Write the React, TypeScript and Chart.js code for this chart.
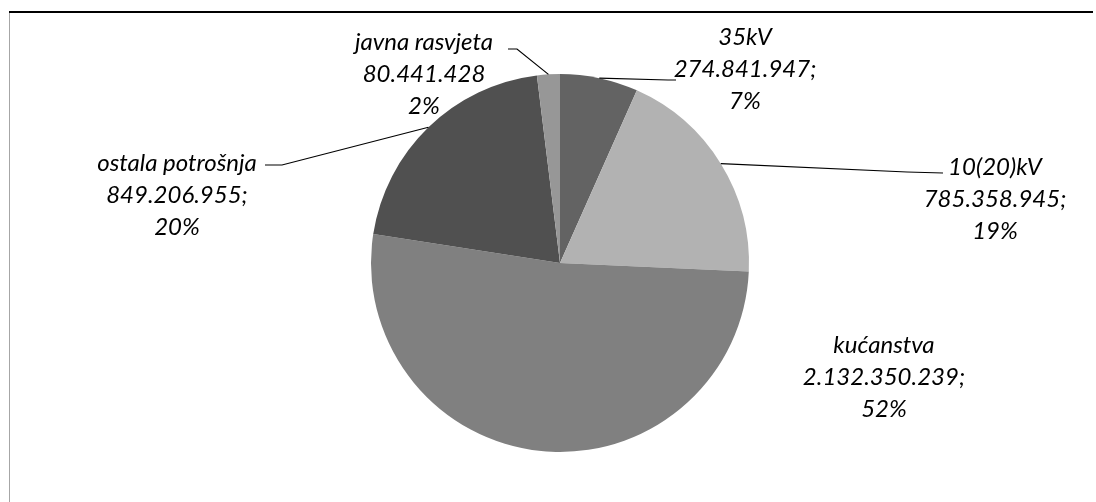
import React, { useEffect, useRef } from "react";
import { Chart, registerables } from "chart.js";

Chart.register(...registerables);

const categories = ["35kV", "10(20)kV", "kućanstva", "ostala potrošnja", "javna rasvjeta"];
const values = [274841947, 785358945, 2132350239, 849206955, 80441428];
const percentLabels = ["7%", "19%", "52%", "20%", "2%"];
const valueSuffix = [";", ";", ";", ";", ""];
const colors = ["#636363", "#b2b2b2", "#808080", "#505050", "#979797"];

// label layout: centre x, first-line y, and leader elbow/tail (null = no leader)
const labelLayout = [
  { x: 745, y: 37, elbow: [668, 80], tail: [676, 80] },
  { x: 995, y: 167, elbow: [907, 172], tail: [943, 173] },
  { x: 884, y: 345, elbow: null, tail: null },
  { x: 177, y: 163, elbow: [282, 165], tail: [265, 165] },
  { x: 424, y: 42, elbow: [517, 49], tail: [508, 49] },
];
const LINE_H = 32;

function fmt(v: number): string {
  return String(v).replace(/\B(?=(\d{3})+(?!\d))/g, ".");
}

const labelPlugin = {
  id: "excelLabels",
  beforeDraw(chart: any) {
    const ctx = chart.ctx;
    ctx.save();
    ctx.fillStyle = "#ffffff";
    ctx.fillRect(0, 0, chart.width, chart.height);
    ctx.restore();
  },
  afterDraw(chart: any) {
    const ctx = chart.ctx;
    const meta = chart.getDatasetMeta(0);
    ctx.save();
    // frame
    ctx.strokeStyle = "#000000";
    ctx.lineWidth = 2;
    ctx.beginPath();
    ctx.moveTo(9, 12);
    ctx.lineTo(1093, 12);
    ctx.stroke();
    ctx.strokeStyle = "#a6a6a6";
    ctx.lineWidth = 1;
    ctx.beginPath();
    ctx.moveTo(9.5, 13);
    ctx.lineTo(9.5, 502);
    ctx.stroke();

    meta.data.forEach((arc: any, i: number) => {
      const L = labelLayout[i];
      if (L.elbow) {
        const mid = (arc.startAngle + arc.endAngle) / 2;
        const px = arc.x + Math.cos(mid) * arc.outerRadius;
        const py = arc.y + Math.sin(mid) * arc.outerRadius;
        ctx.strokeStyle = "#000000";
        ctx.lineWidth = 1.2;
        ctx.beginPath();
        ctx.moveTo(px, py);
        ctx.lineTo(L.elbow[0], L.elbow[1]);
        ctx.lineTo(L.tail[0], L.tail[1]);
        ctx.stroke();
      }
      ctx.fillStyle = "#000000";
      ctx.font = "italic 24px Lato";
      ctx.textAlign = "center";
      ctx.textBaseline = "middle";
      const lines = [categories[i], fmt(values[i]) + valueSuffix[i], percentLabels[i]];
      lines.forEach((t, k) => ctx.fillText(t, L.x, L.y + k * LINE_H));
    });
    ctx.restore();
  },
};

export default function App() {
  const ref = useRef<HTMLCanvasElement>(null);
  useEffect(() => {
    if (!ref.current) return;
    const chart = new Chart(ref.current, {
      type: "pie",
      data: {
        labels: categories,
        datasets: [
          {
            data: values,
            backgroundColor: colors,
            borderWidth: 0,
          },
        ],
      },
      options: {
        animation: false,
        responsive: false,
        maintainAspectRatio: false,
        layout: { padding: { top: 74, bottom: 50, left: 24, right: 0 } },
        plugins: {
          legend: { display: false },
          tooltip: { enabled: false },
          title: { display: false },
        },
      },
      plugins: [labelPlugin],
    });
    return () => chart.destroy();
  }, []);
  return (
    <div style={{ position: "fixed", left: 0, top: 0, width: 1096, height: 502, background: "#fff" }}>
      <canvas ref={ref} width={1096} height={502} style={{ display: "block", width: 1096, height: 502 }} />
    </div>
  );
}
